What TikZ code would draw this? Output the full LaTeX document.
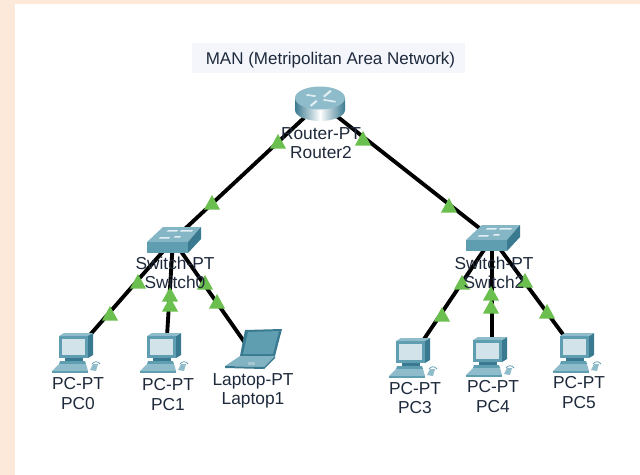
\documentclass[tikz,border=0pt]{standalone}
\usepackage{fontspec}
\setmainfont{Liberation Sans}
\definecolor{peach}{HTML}{FDE9DA}
\definecolor{titlebg}{HTML}{F5F6FC}
\definecolor{txt}{HTML}{1E2A3C}
\definecolor{linkgreen}{HTML}{6BBF4E}
\definecolor{tealA}{HTML}{5F9DB1}
\definecolor{tealB}{HTML}{3A7A90}
\definecolor{tealC}{HTML}{8FBCCB}
\definecolor{screen}{HTML}{D3E3EA}
\tikzset{
  hub/.style={inner sep=0pt,minimum size=0pt},
  linkline/.style={line width=2.9pt,black},
  lbl/.style={font=\fontsize{13pt}{14.4pt}\selectfont,text=txt,inner sep=0pt,align=center},
  titlelbl/.style={font=\fontsize{12.75pt}{14.4pt}\selectfont,text=txt,inner sep=0pt},
  tri/.pic={\fill[linkgreen] (0,-8) -- (8,6.5) -- (-8,6.5) -- cycle;},
  routericon/.pic={
    \path[left color=tealB,right color=tealB,middle color=white]
      (-25,-5) -- (-25,7) arc[start angle=180,end angle=360,x radius=25,y radius=-11] -- (25,-5) -- cycle;
    \fill[tealC] (0,-5) ellipse[x radius=25,y radius=11.5];
    \fill[white!75!tealC] (-13,-9) -- (-4,-7.5) -- (-5,-6) -- (-14,-7.5) -- cycle
      (3,-7) -- (10,-13) -- (11.5,-11.5) -- (4.5,-5.5) -- cycle
      (4,-4) -- (16,-2) -- (15,-.5) -- (3,-2.5) -- cycle
      (-10,2) -- (-4,-3) -- (-2.5,-1.5) -- (-8.5,3.5) -- cycle;
  },
  switchicon/.pic={
    \fill[tealC!80!tealA] (-26,2) -- (-10,-13) -- (28,-13) -- (15,2) -- cycle;
    \fill[tealA] (-26,2) rectangle (15,13);
    \fill[tealB] (15,2) -- (28,-13) -- (28,-1) -- (15,13) -- cycle;
    \fill[white!75!tealC] (-13,-3) -- (-3,-3) -- (-4,-1.5) -- (-14,-1.5) -- cycle
      (-5,-10) -- (5,-10) -- (4,-8.5) -- (-6,-8.5) -- cycle
      (8,-10) -- (20,-10) -- (19,-8.5) -- (7,-8.5) -- cycle
      (2,-4) -- (8,-4) -- (7,-2.5) -- (1,-2.5) -- cycle;
  },
  pcicon/.pic={
    \fill[tealB] (13,-16) -- (18,-19) -- (18,3) -- (13,6) -- cycle;
    \fill[tealC] (-16,-16) -- (-11,-19) -- (18,-19) -- (13,-16) -- cycle;
    \fill[tealA] (-16,-16) rectangle (13,6);
    \fill[screen] (-13,-13) rectangle (10,3);
    \fill[tealB] (-10,6) rectangle (8,9);
    \fill[tealA] (-15,9) -- (10,9) -- (11,12) -- (-16,12) -- cycle;
    \fill[tealC] (-16,12) -- (11,12) -- (13,19) -- (-23,19) -- cycle;
    \fill[tealA] (-23,19) rectangle (13,20.5);
    \fill[tealC] (15,18) -- (18,12) -- (23,12) -- (21,19) -- cycle;
    \draw[tealA,line width=.6pt] (17,12) .. controls (19,9) and (23,9) .. (25,12);
  },
  laptopicon/.pic={
    \fill[tealB] (-5,-20) -- (32,-21) -- (25,6) -- (-10,6) -- cycle;
    \fill[tealA] (-2,-18) -- (29,-19) -- (23,4) -- (-7,4) -- cycle;
    \fill[tealC!70!tealA] (-10,6) -- (25,6) -- (14,17) -- (-25,16) -- cycle;
    \fill[tealB] (-25,16) -- (14,17) -- (14,19) -- (-25,18) -- cycle;
    \fill[tealB] (14,19) -- (14,17) -- (25,6) -- (25,8) -- cycle;
    \fill[screen!60!tealA] (-2,12) rectangle (5,15);
  }
}
\begin{document}
\begin{tikzpicture}[x=.75pt,y=-.75pt]
\useasboundingbox (0,0) rectangle (640,475);
\fill[white] (0,0) rectangle (640,475);
\fill[peach] (0,0) rectangle (640,4);
\fill[peach] (0,0) rectangle (15,475);
\fill[titlebg] (192,43) rectangle (465,73);

\node[hub] (router) at (320,103) {};
\node[hub] (sw0) at (173,240) {};
\node[hub] (sw2) at (492,238) {};
\node[hub] (pc0) at (75,352) {};
\node[hub] (pc1) at (166,352) {};
\node[hub] (lap1) at (250,350) {};
\node[hub] (pc3) at (412,357) {};
\node[hub] (pc4) at (492,356) {};
\node[hub] (pc5) at (576,352) {};

\draw[linkline] (router) -- (sw0);
\draw[linkline] (router) -- (sw2);
\draw[linkline] (sw0) -- (pc0);
\draw[linkline] (sw0) -- (pc1);
\draw[linkline] (sw0) -- (lap1);
\draw[linkline] (sw2) -- (pc3);
\draw[linkline] (sw2) -- (pc4);
\draw[linkline] (sw2) -- (pc5);

\foreach \tx/\ty in {278/142,212/203,363/139,449/206,138/282,110/314,170/295,170/305,205/283,217/302,462/283,442/315,491/294,491/307,525/281,547/312}
  \pic at (\tx,\ty) {tri};

\pic at (router) {routericon};
\pic at (sw0) {switchicon};
\pic at (sw2) {switchicon};
\pic at (pc0) {pcicon};
\pic at (163,352) {pcicon};
\pic at (lap1) {laptopicon};
\pic at (pc3) {pcicon};
\pic at (489,356) {pcicon};
\pic at (pc5) {pcicon};

\node[titlelbl] (title) at (330.5,60) {MAN (Metripolitan Area Network)};
\node[lbl] (lr) at (321,143) {Router-PT\\Router2};
\node[lbl] (ls0) at (175,272.5) {Switch-PT\\Switch0};
\node[lbl] (ls2) at (494,272.5) {Switch-PT\\Switch2};
\node[lbl] (lp0) at (78,393.5) {PC-PT\\PC0};
\node[lbl] (lp1) at (168,394.5) {PC-PT\\PC1};
\node[lbl] (ll1) at (253,391) {Laptop-PT\\Laptop1};
\node[lbl] (lp3) at (415,398) {PC-PT\\PC3};
\node[lbl] (lp4) at (493,396.5) {PC-PT\\PC4};
\node[lbl] (lp5) at (579,392.5) {PC-PT\\PC5};
\end{tikzpicture}
\end{document}
